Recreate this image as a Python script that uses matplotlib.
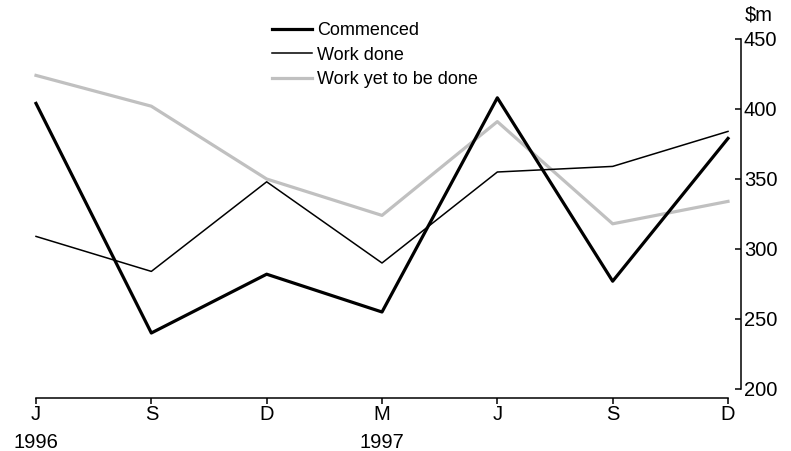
import matplotlib.pyplot as plt
import numpy as np

plt.rcParams['font.family'] = ['Liberation Sans', 'DejaVu Sans']

quarters = ["J", "S", "D", "M", "J", "S", "D"]
years = ["1996", "", "", "1997", "", "", ""]

commenced = [404, 240, 282, 255, 408, 277, 379]
work_done = [309, 284, 348, 290, 355, 359, 384]
work_yet = [424, 402, 350, 324, 391, 318, 334]

W, H = 791, 451
fig = plt.figure(figsize=(W / 100, H / 100), dpi=100)
ax = fig.add_axes([36 / W, (H - 389) / H, (728 - 36) / W, 350 / H])

x = np.arange(len(quarters))
ax.plot(x, work_yet, color="#c0c0c0", lw=2.3, label="Work yet to be done", zorder=1, clip_on=False)
ax.plot(x, work_done, color="black", lw=1.1, label="Work done", zorder=2, clip_on=False)
ax.plot(x, commenced, color="black", lw=2.3, label="Commenced", zorder=3, clip_on=False)

ax.set_xlim(0, 6)
ax.set_ylim(200, 450)

for s in ["top", "left"]:
    ax.spines[s].set_visible(False)
ax.spines["right"].set_position(("outward", 9.5))
ax.spines["bottom"].set_position(("outward", 6.2))
ax.spines["right"].set_bounds(200, 450)
ax.spines["bottom"].set_bounds(0, 6)
for s in ["right", "bottom"]:
    ax.spines[s].set_linewidth(1.1)

ax.yaxis.tick_right()
ax.set_yticks(np.arange(200, 451, 50))
ax.tick_params(axis="y", direction="in", length=4, width=1.1, labelsize=14.5, pad=2)
ax.set_xticks(x)
ax.set_xticklabels([q + "\n" + y for q, y in zip(quarters, years)], linespacing=1.55)
ax.tick_params(axis="x", direction="out", length=4, width=1.1, labelsize=14.5, pad=1.5)

fig.text(745 / W, 1 - 15 / H, "$m", fontsize=14.5, va="center", ha="left")

handles, labels = ax.get_legend_handles_labels()
order = [2, 1, 0]
fig.legend([handles[i] for i in order], [labels[i] for i in order],
           loc="upper left", bbox_to_anchor=(272 / W, 1 - 22 / H),
           frameon=False, fontsize=13, handlelength=2.2, handletextpad=0.3,
           labelspacing=0.42, borderpad=0, borderaxespad=0)

fig.savefig("out.png", dpi=100)
